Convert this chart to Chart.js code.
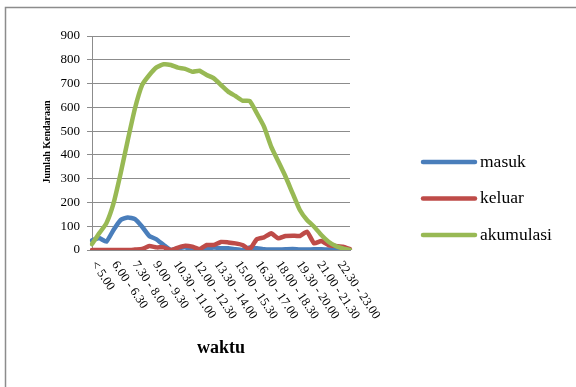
<!DOCTYPE html>
<html>
<head>
<meta charset="utf-8">
<script src="https://cdn.jsdelivr.net/npm/chart.js@4.4.0/dist/chart.umd.min.js"></script>
<style>
html,body{margin:0;padding:0;background:#fff;}
#wrap{width:576px;height:387px;position:relative;}
</style>
</head>
<body>
<div id="wrap"><canvas id="c" width="576" height="387"></canvas></div>
<script>
const categories = ["< 5.00","5.00 - 5.30","5.30 - 6.00","6.00 - 6.30","6.30 - 7.00","7.00 - 7.30","7.30 - 8.00","8.00 - 8.30","8.30 - 9.00","9.00 - 9.30","9.30 - 10.00","10.00 - 10.30","10.30 - 11.00","11.00 - 11.30","11.30 - 12.00","12.00 - 12.30","12.30 - 13.00","13.00 - 13.30","13.30 - 14.00","14.00 - 14.30","14.30 - 15.00","15.00 - 15.30","15.30 - 16.00","16.00 - 16.30","16.30 - 17.00","17.00 - 17.30","17.30 - 18.00","18.00 - 18.30","18.30 - 19.00","19.00 - 19.30","19.30 - 20.00","20.00 - 20.30","20.30 - 21.00","21.00 - 21.30","21.30 - 22.00","22.00 - 22.30","22.30 - 23.00"];
const masuk = [40,50,35,84,126,137,130,98,59,45,21,0,7,11,0,0,4,11,7,7,3,0,11,7,3,2,2,3,4,2,2,3,3,2,2,0,0];
const keluar = [0,0,0,0,0,0,2,4,17,11,11,0,10,18,14,4,21,21,34,32,28,21,3,45,53,70,49,59,60,59,77,28,38,21,17,14,4];
const akumulasi = [25,70,112,196,323,463,596,694,736,768,781,778,767,762,750,754,736,722,694,666,648,628,627,575,519,435,372,309,238,168,126,98,63,35,17,7,0];
const seriesNames = ["masuk","keluar","akumulasi"];
const yTicks = [0,100,200,300,400,500,600,700,800,900];
const xTitle = "waktu";
const yTitle = "Jumlah Kendaraan";

const colors = ["#4a7ebb","#be4b48","#98b954"];
const serif = "'Liberation Serif','Times New Roman',serif";

const decor = {
  id:'decor',
  beforeDraw(chart){
    const ctx = chart.ctx;
    ctx.save();
    ctx.fillStyle='#fff';
    ctx.fillRect(0,0,chart.width,chart.height);
    ctx.strokeStyle='#8c8c8c';
    ctx.lineWidth=1.5;
    ctx.beginPath();
    ctx.moveTo(5.5,387);ctx.lineTo(5.5,7.5);ctx.lineTo(576,7.5);
    ctx.stroke();
    ctx.restore();
  },
  afterDraw(chart){
    const ctx = chart.ctx;
    const xs = chart.scales.x;
    const ca = chart.chartArea;
    ctx.save();
    // x tick labels, rotated clockwise
    ctx.fillStyle='#000';
    ctx.font = "12.5px " + serif;
    ctx.textAlign='left';
    ctx.textBaseline='top';
    categories.forEach((lab,i)=>{
      if(i%3!==0) return;
      const x = xs.getPixelForValue(i);
      ctx.save();
      ctx.translate(x + 7 - i*0.33, ca.bottom+9);
      ctx.rotate(56*Math.PI/180);
      ctx.fillText(lab,0,0);
      ctx.restore();
    });
    // x title
    ctx.font = "bold 18px " + serif;
    ctx.textAlign='center';
    ctx.textBaseline='middle';
    ctx.fillText(xTitle, 221, 348);
    // y title
    ctx.save();
    ctx.translate(47, 142);
    ctx.rotate(-Math.PI/2);
    ctx.font = "bold 10px " + serif;
    ctx.fillText(yTitle, 0, 0);
    ctx.restore();
    // legend
    chart.data.datasets.forEach((ds,i)=>{
      const y = 162 + i*36.5;
      ctx.strokeStyle = ds.borderColor;
      ctx.lineWidth = 4.5;
      ctx.lineCap='round';
      ctx.beginPath();
      ctx.moveTo(423,y);ctx.lineTo(475,y);
      ctx.stroke();
      ctx.fillStyle='#000';
      ctx.font = "17.5px " + serif;
      ctx.textAlign='left';
      ctx.textBaseline='middle';
      ctx.fillText(ds.label, 480, y);
    });
    ctx.restore();
  }
};

new Chart(document.getElementById('c'), {
  type:'line',
  data:{
    labels: categories,
    datasets:[
      {label:seriesNames[0], data:masuk, borderColor:colors[0], order:2},
      {label:seriesNames[1], data:keluar, borderColor:colors[1], order:1},
      {label:seriesNames[2], data:akumulasi, borderColor:colors[2], order:0}
    ].map(d=>Object.assign(d,{borderWidth:4.5,pointRadius:0,tension:0.15,fill:false,borderJoinStyle:'round',borderCapStyle:'round'}))
  },
  options:{
    responsive:false,
    animation:false,
    layout:{padding:{left:0,top:36,right:226,bottom:0}},
    plugins:{legend:{display:false},tooltip:{enabled:false}},
    scales:{
      x:{
        type:'category',
        offset:false,
        grid:{display:false},
        border:{display:true,color:'#8c8c8c',width:1},
        ticks:{display:false},
        afterFit(s){ s.height = 137; }
      },
      y:{
        min:0,max:900,
        afterBuildTicks(s){ s.ticks = yTicks.map(v=>({value:v})); },
        grid:{color:'#8c8c8c',lineWidth:1,drawTicks:true,tickLength:5},
        border:{display:true,color:'#8c8c8c',width:1},
        ticks:{color:'#000',font:{family:serif,size:13},padding:7},
        afterFit(s){ s.width = 92; }
      }
    }
  },
  plugins:[decor]
});
</script>
</body>
</html>
